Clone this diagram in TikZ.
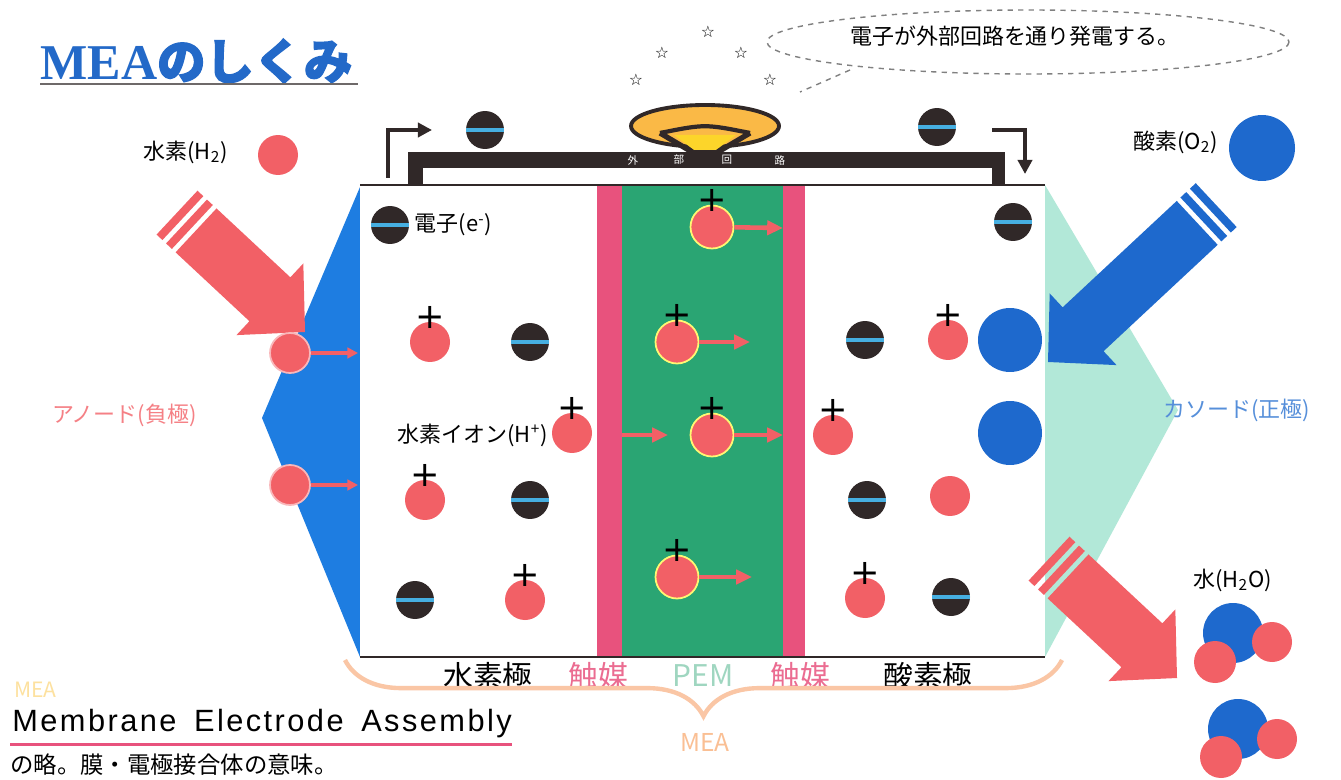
\documentclass[tikz,border=0pt]{standalone}
\usepackage{fontspec}
\setmainfont{Noto Sans CJK JP}
\newfontfamily\kanabold[FakeBold=2.5]{Noto Sans CJK JP}
\newfontfamily\titleserif{Liberation Serif}
\newfontfamily\symfont{DejaVu Sans}
\newfontfamily\latinsans[LetterSpace=8,WordSpace=1.6]{Liberation Sans}
\usetikzlibrary{arrows.meta,calc,positioning,decorations.pathreplacing}
\definecolor{titleblue}{RGB}{35,105,200}
\definecolor{anodeblue}{RGB}{30,125,225}
\definecolor{oxblue}{RGB}{30,105,205}
\definecolor{hred}{RGB}{242,96,102}
\definecolor{elec}{RGB}{48,40,40}
\definecolor{ecyan}{RGB}{70,175,225}
\definecolor{catpink}{RGB}{232,82,125}
\definecolor{pemgreen}{RGB}{42,165,115}
\definecolor{mint}{RGB}{178,232,216}
\definecolor{lamp}{RGB}{250,185,70}
\definecolor{braceor}{RGB}{250,198,165}

\begin{document}
\begin{tikzpicture}[x=0.02cm,y=-0.02cm,
    lbl/.style={font=\fontsize{12.5}{13}\selectfont,inner sep=0pt},
    pole/.style={font=\fontsize{17}{18}\selectfont,inner sep=0pt},
    proton/.style={circle,fill=hred,minimum size=0.8cm,inner sep=0pt},
    plusion/.style={proton,label={[font=\symfont\fontsize{20}{20}\selectfont,inner sep=0pt,label distance=-4pt]90:+}},
    pemion/.style={plusion,draw=yellow!55!white,line width=1pt,minimum size=0.86cm},
    electron/.style={circle,fill=elec,minimum size=0.76cm,inner sep=0pt,
      path picture={\draw[ecyan,line width=2pt] (path picture bounding box.west) -- (path picture bounding box.east);}},
    oxygen/.style={circle,fill=oxblue,minimum size=1.28cm,inner sep=0pt},
    ionarrow/.style={draw=hred,line width=2.6pt,-{Triangle[length=9pt,width=8pt]}},
    wirearrow/.style={draw=elec,line width=2.4pt,-{Triangle[length=8pt,width=8pt]}},
    pics/fatarrow/.style n args={2}{code={
      \fill[#1] (-48,-30) -- (-48,-49) -- (0,0) -- (-48,49) -- (-48,30) -- (-#2+26,30) -- (-#2+26,-30) -- cycle;
      \fill[#1] (-#2+13,-30) rectangle (-#2+21,30);
      \fill[#1] (-#2,-30) rectangle (-#2+8,30);
    }}]
  \useasboundingbox (0,0) rectangle (1341,780);
  \fill[white] (0,0) rectangle (1341,780);

  % title
  \node[anchor=south west,inner sep=0pt,text=titleblue] (title) at (40,84)
    {\titleserif\bfseries\fontsize{28.5}{28}\selectfont MEA\kanabold\fontsize{27.5}{27}\selectfont のしくみ};
  \draw[elec!70,line width=0.8pt] (title.south west) -- ++(318,0);

  % electrode wings
  \fill[mint] (1045,185) -- (1178,410) -- (1045,657) -- cycle;
  \fill[anodeblue] (360,187) -- (262,418) -- (360,657) -- cycle;

  % cell: anode | catalyst | PEM | catalyst | cathode
  \fill[white] (360,185) rectangle (1045,657);
  \fill[catpink] (597,185) rectangle (622,657);
  \fill[pemgreen] (622,185) rectangle (783,657);
  \fill[catpink] (783,185) rectangle (805,657);
  \draw[elec,line width=0.8pt] (360,185) -- (1045,185) (360,657) -- (1045,657);

  % external circuit and lamp
  \fill[elec] (408,152) rectangle (1005,168);
  \fill[elec] (408,152) rectangle (423,186);
  \fill[elec] (992,152) rectangle (1005,186);
  \foreach \ch/\cx [count=\i] in {外/633,部/679,回/727,路/780}
    \node[text=white,font=\fontsize{6}{6}\selectfont,inner sep=0pt] (wire\i) at (\cx,160) {\ch};
  \fill[elec] (688,138) rectangle (722,154);
  \filldraw[fill=lamp,draw=elec,line width=2.2pt] (705,126) ellipse (74 and 21);
  \fill[lamp!60!yellow] (674,135) -- (736,135) -- (716,150) -- (694,150) -- cycle;
  \draw[elec,line width=3pt] (660,133) -- (692,152) (750,133) -- (718,152);
  \draw[elec,line width=2.4pt] (660,133) .. controls (705,124) .. (750,133);

  \coordinate (lwa) at (388,178);
  \coordinate (lwb) at (432,130);
  \coordinate (rwa) at (992,130);
  \coordinate (rwb) at (1025,174);
  \draw[wirearrow] (lwa) |- (lwb);
  \draw[wirearrow] (rwa) -| (rwb);
  \node[electron] (te1) at (485,130) {};
  \node[electron] (te2) at (937,127) {};

  % speech bubble and stars
  \draw[gray,dashed,line width=0.8pt] (1028,42) ellipse (261 and 32);
  \coordinate (bub) at (850,70);
  \coordinate (bubtip) at (800,92);
  \draw[gray,dashed,line width=0.8pt] (bub) -- (bubtip);
  \node[lbl] (bubtext) at (1015,36) {電子が外部回路を通り発電する。};
  \foreach \sx/\sy [count=\i] in {708/32,662/53,741/53,636/80,770/80}
    \node[font=\symfont\fontsize{9}{9}\selectfont,inner sep=0pt] (star\i) at (\sx,\sy) {☆};

  % supply gases
  \node[lbl,anchor=east] (h2l) at (228,152) {水素(H\textsubscript{2})};
  \node[proton] (h2) at (278,155) {};
  \node[lbl,anchor=east] (o2l) at (1218,142) {酸素(O\textsubscript{2})};
  \node[oxygen,minimum size=1.32cm] (o2) at (1262,148) {};

  \pic[rotate=-43] at (305,332) {fatarrow={hred}{175}};
  \pic[rotate=-137] at (1048,362) {fatarrow={oxblue}{230}};
  \pic[rotate=-43] at (1177,678) {fatarrow={hred}{175}};

  \node[lbl,text=hred!80!white,anchor=east] (anl) at (197,415) {アノード(負極)};
  \node[lbl,text=oxblue!75!white,anchor=west] (cal) at (1163,410) {カソード(正極)};

  % hydrogen side
  \node[proton,draw=hred!45,line width=1pt] (wp1) at (290,353) {};
  \node[proton,draw=hred!45,line width=1pt] (wp2) at (290,485) {};
  \coordinate (wt1) at (358,353);
  \coordinate (wt2) at (358,485);
  \draw[ionarrow,line width=2pt,-{Triangle[length=6pt,width=6pt]}] (wp1) -- (wt1);
  \draw[ionarrow,line width=2pt,-{Triangle[length=6pt,width=6pt]}] (wp2) -- (wt2);

  \node[electron] (ae1) at (390,225) {};
  \node[lbl,right=3pt of ae1] (ael) {電子(e\textsuperscript{-})};
  \node[plusion] (ap1) at (430,342) {};
  \node[electron] (ae2) at (530,342) {};
  \node[plusion] (ap2) at (572,433) {};
  \node[lbl,anchor=east] (hil) at (548,435) {水素イオン(H\textsuperscript{+})};
  \node[plusion] (ap3) at (425,500) {};
  \node[electron] (ae3) at (530,500) {};
  \node[electron] (ae4) at (415,600) {};
  \node[plusion] (ap4) at (525,600) {};

  % protons through the PEM
  \node[pemion] (mp1) at (712,227) {};
  \node[pemion] (mp2) at (677,342) {};
  \node[pemion] (mp3) at (712,435) {};
  \node[pemion] (mp4) at (677,577) {};
  \coordinate (mt1) at (783,228);
  \coordinate (mt2) at (750,342);
  \coordinate (mt3) at (783,435);
  \coordinate (mt4) at (752,577);
  \coordinate (ms3) at (622,435);
  \coordinate (me3) at (668,435);
  \foreach \p in {1,2,3,4}
    \draw[ionarrow] (mp\p) -- (mt\p);
  \draw[ionarrow] (ms3) -- (me3);

  % oxygen side
  \node[electron] (ce1) at (1013,222) {};
  \node[electron] (ce2) at (865,340) {};
  \node[plusion] (cp1) at (948,340) {};
  \node[oxygen] (co1) at (1010,340) {};
  \node[plusion] (cp2) at (833,435) {};
  \node[oxygen] (co2) at (1010,433) {};
  \node[electron] (ce3) at (867,500) {};
  \node[proton] (cp3) at (950,496) {};
  \node[plusion] (cp4) at (865,598) {};
  \node[electron] (ce4) at (951,597) {};

  % water
  \node[lbl,anchor=west] (h2ol) at (1193,580) {水(H\textsubscript{2}O)};
  \node[oxygen,minimum size=1.2cm] (w1o) at (1233,633) {};
  \node[proton] (w1a) at (1272,642) {};
  \node[proton,minimum size=0.84cm] (w1b) at (1215,662) {};
  \node[oxygen,minimum size=1.2cm] (w2o) at (1238,729) {};
  \node[proton] (w2a) at (1277,739) {};
  \node[proton,minimum size=0.84cm] (w2b) at (1221,757) {};

  % layer names and brace
  \node[pole] (hpole) at (488,676) {水素極};
  \node[pole,text=catpink!85!white] (cat1) at (598,676) {触媒};
  \node[pole,text=pemgreen!45!white] (pem) at (703,676) {PEM};
  \node[pole,text=catpink!85!white] (cat2) at (800,676) {触媒};
  \node[pole] (opole) at (928,676) {酸素極};
  \draw[braceor,line width=2.5pt,decorate,decoration={brace,mirror,amplitude=32pt}]
    (345,660) -- (1062,660);
  \node[font=\fontsize{14}{14}\selectfont,text=braceor!90!orange,inner sep=0pt] (meab) at (705,742) {MEA};

  % abbreviation note
  \node[anchor=west,font=\fontsize{12}{12}\selectfont,text=yellow!40!orange!35!white,inner sep=0pt] (meaa) at (14,690) {MEA};
  \node[anchor=west,font=\latinsans\fontsize{17.5}{17}\selectfont,inner sep=0pt] (meaf) at (12,724) {Membrane Electrode Assembly};
  \draw[catpink,line width=1.6pt] ($(meaf.south west)+(-2,6)$) -- ($(meaf.south east)+(0,6)$);
  \node[anchor=west,font=\fontsize{13.3}{13}\selectfont,inner sep=0pt] (meaj) at (10,765) {の略。膜・電極接合体の意味。};
\end{tikzpicture}
\end{document}
